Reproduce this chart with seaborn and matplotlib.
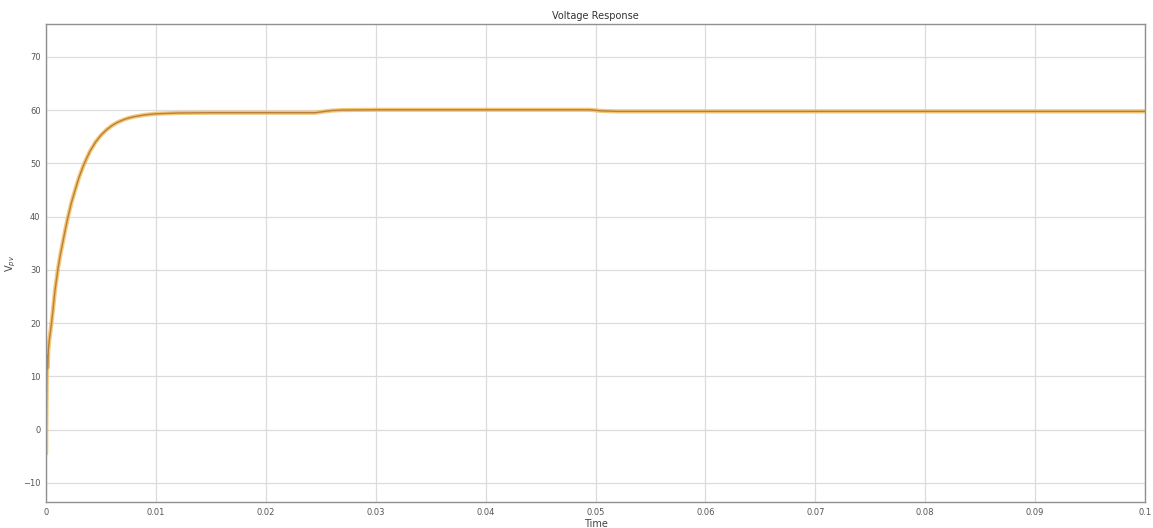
import matplotlib.pyplot as plt
import seaborn as sns
import pandas as pd

# Voltage response
time = [0, 0.00003, 0.00006, 0.0001, 0.00013, 0.00017, 0.0002, 0.0003, 0.0004,
        0.0005, 0.0006, 0.0007, 0.0008, 0.00095, 0.0011, 0.0013, 0.0015, 0.00175,
        0.002, 0.0023, 0.0027, 0.003, 0.0034, 0.0037, 0.004, 0.0045, 0.005,
        0.0055, 0.006, 0.0065, 0.007, 0.0075, 0.008, 0.009, 0.01, 0.012, 0.015,
        0.02, 0.0245, 0.0252, 0.026, 0.027, 0.03, 0.04, 0.0495, 0.0505, 0.052,
        0.06, 0.08, 0.1]
vpv = [-4.5, 3, 10, 14, 11.5, 13, 15, 17, 18.5,
       20.2, 22, 24, 26, 28.3, 30.5, 32.9, 35, 37.6,
       40, 42.6, 45.4, 47.4, 49.6, 51.0, 52.3, 54.0, 55.3,
       56.3, 57.1, 57.7, 58.15, 58.5, 58.75, 59.1, 59.3, 59.45, 59.5,
       59.5, 59.5, 59.7, 59.9, 60.0, 60.05, 60.05, 60.05, 59.85, 59.75,
       59.75, 59.75, 59.75]

x_ticks = [0, 0.01, 0.02, 0.03, 0.04, 0.05, 0.06, 0.07, 0.08, 0.09, 0.1]
x_tick_labels = ['0', '0.01', '0.02', '0.03', '0.04', '0.05', '0.06', '0.07', '0.08', '0.09', '0.1']
y_ticks = [-10, 0, 10, 20, 30, 40, 50, 60, 70]

df = pd.DataFrame({'Time': time, 'Vpv': vpv})

sns.set_style('whitegrid')
plt.rcParams['font.family'] = ['DejaVu Sans']

fig, ax = plt.subplots(figsize=(11.53, 5.28), dpi=100)
fig.subplots_adjust(left=0.04, right=0.993, top=0.954, bottom=0.049)

# wide light halo plus darker core, like the blurred scope trace
sns.lineplot(data=df, x='Time', y='Vpv', ax=ax, color='#f2b955', linewidth=3.0, alpha=0.8)
sns.lineplot(data=df, x='Time', y='Vpv', ax=ax, color='#b8803a', linewidth=1.0)

ax.set_xlim(0, 0.1)
ax.set_ylim(-13.6, 76.1)
ax.set_xticks(x_ticks)
ax.set_xticklabels(x_tick_labels)
ax.set_yticks(y_ticks)
ax.tick_params(axis='both', direction='in', length=4, labelsize=6, colors='#555555',
               labelcolor='#555555', pad=4)
ax.grid(True, color='#dcdcdc', linewidth=0.9)
for s in ax.spines.values():
    s.set_color('#909090')
    s.set_linewidth(1.0)

ax.set_title('Voltage Response', fontsize=7, color='#333333', pad=4)
ax.set_xlabel('Time', fontsize=7, color='#444444', labelpad=2)
ax.set_ylabel('V$_{pv}$', fontsize=7, color='#444444', labelpad=4)

plt.savefig('out.png', dpi=100)
